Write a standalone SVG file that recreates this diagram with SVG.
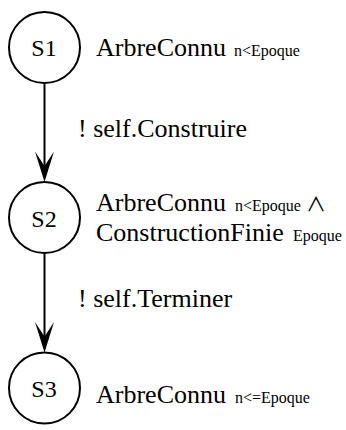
<svg xmlns="http://www.w3.org/2000/svg" width="346" height="430" viewBox="0 0 346 430">
<style>
.st{fill:none;stroke:#000;stroke-width:2}
.lbl{font-family:"Liberation Serif","Times New Roman",serif;font-size:24px;fill:#000;text-anchor:middle}
.big{font-family:"Liberation Serif","Times New Roman",serif;font-size:26px;fill:#000}
.sub{font-family:"Liberation Serif","Times New Roman",serif;font-size:16px;fill:#000}
.sym{font-family:"Liberation Serif","Noto Sans CJK JP",serif;font-size:20px;fill:#000}
.ln{stroke:#000;stroke-width:2;fill:none}
.ah{fill:#000;stroke:none}
</style>
<rect width="346" height="430" fill="#fff"/>
<g id="connectors">
<line class="ln" x1="44.5" y1="83" x2="44.5" y2="168"/>
<polygon class="ah" points="44.5,182 35,151.5 44.5,166 54,151.5"/>
<text class="big" x="78" y="137">! self.Construire</text>
<line class="ln" x1="44.5" y1="253" x2="44.5" y2="338"/>
<polygon class="ah" points="44.5,352.5 35,322 44.5,336.5 54,322"/>
<text class="big" x="78" y="307">! self.Terminer</text>
</g>
<g id="S1">
<circle class="st" cx="44.5" cy="47.5" r="35.5"/>
<text class="lbl" x="44" y="56">S1</text>
<text class="big" x="96" y="56">ArbreConnu</text>
<text class="sub" x="234" y="56">n&lt;Epoque</text>
</g>
<g id="S2">
<circle class="st" cx="44.5" cy="217.5" r="35.5"/>
<text class="lbl" x="44" y="227">S2</text>
<text class="big" x="96" y="211">ArbreConnu</text>
<text class="sub" x="235" y="211">n&lt;Epoque</text>
<text class="sym" x="306" y="212">∧</text>
<text class="big" x="96" y="241">ConstructionFinie</text>
<text class="sub" x="293" y="241">Epoque</text>
</g>
<g id="S3">
<circle class="st" cx="44.5" cy="388" r="35.5"/>
<text class="lbl" x="44" y="397">S3</text>
<text class="big" x="96" y="403">ArbreConnu</text>
<text class="sub" x="235" y="403">n&lt;=Epoque</text>
</g>
</svg>
